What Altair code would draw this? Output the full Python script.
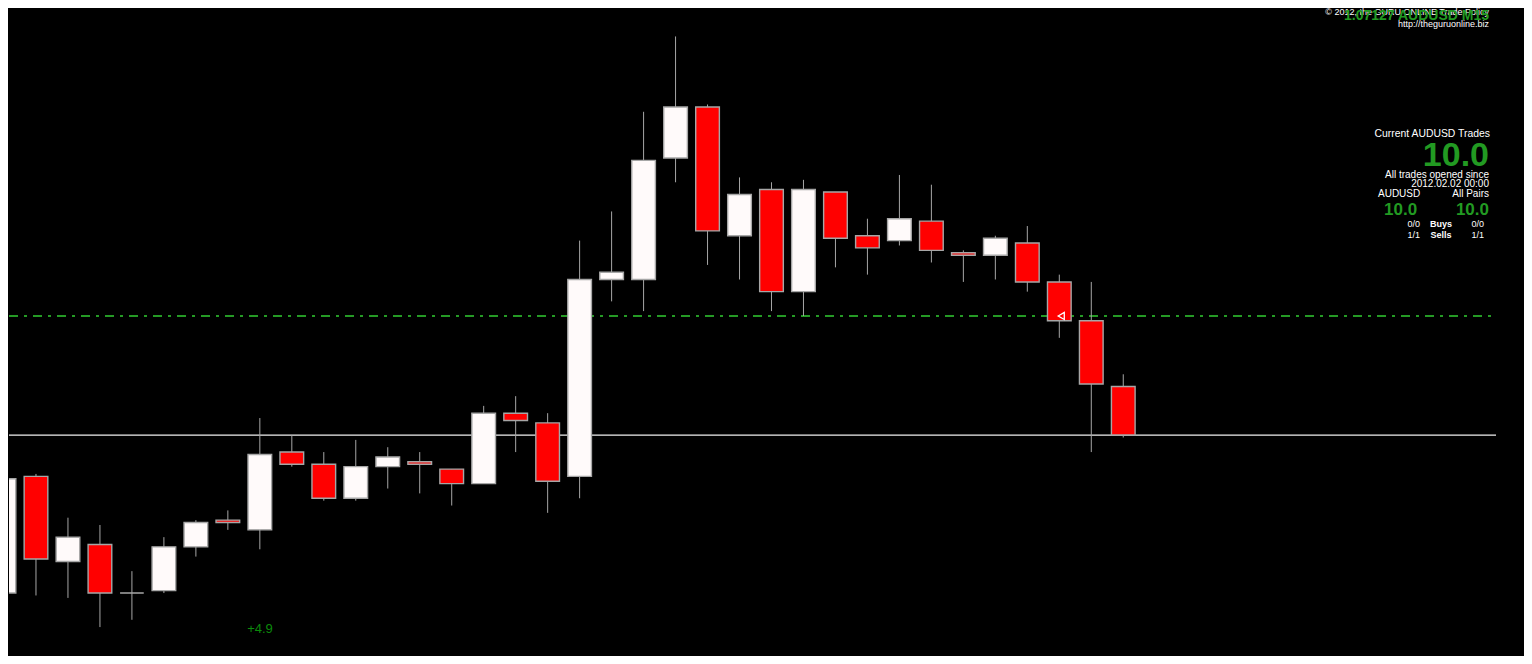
import altair as alt
import pandas as pd

# ---- AUDUSD M15 candles ----
opens  = [1.07062, 1.07110, 1.07075, 1.07082, 1.07062, 1.07063, 1.07081, 1.07092, 1.07088,
          1.07120, 1.07115, 1.07101, 1.07114, 1.07116, 1.07113, 1.07107, 1.07136, 1.07132,
          1.07110, 1.07191, 1.07191, 1.07241, 1.07262, 1.07209, 1.07228, 1.07186, 1.07227,
          1.07209, 1.07207, 1.07215, 1.07202, 1.07201, 1.07206, 1.07190, 1.07174, 1.07147]
highs  = [1.07128, 1.07111, 1.07093, 1.07090, 1.07071, 1.07085, 1.07092, 1.07096, 1.07134,
          1.07127, 1.07120, 1.07125, 1.07122, 1.07120, 1.07113, 1.07139, 1.07143, 1.07136,
          1.07207, 1.07219, 1.07260, 1.07291, 1.07263, 1.07233, 1.07231, 1.07232, 1.07227,
          1.07216, 1.07234, 1.07230, 1.07203, 1.07209, 1.07213, 1.07193, 1.07190, 1.07152]
lows   = [1.07061, 1.07061, 1.07060, 1.07048, 1.07051, 1.07062, 1.07077, 1.07088, 1.07080,
          1.07114, 1.07100, 1.07100, 1.07105, 1.07103, 1.07098, 1.07107, 1.07120, 1.07095,
          1.07101, 1.07182, 1.07178, 1.07231, 1.07197, 1.07191, 1.07178, 1.07176, 1.07196,
          1.07193, 1.07205, 1.07198, 1.07190, 1.07191, 1.07186, 1.07167, 1.07120, 1.07126]
closes = [1.07109, 1.07076, 1.07085, 1.07062, 1.07062, 1.07081, 1.07091, 1.07091, 1.07119,
          1.07115, 1.07101, 1.07114, 1.07118, 1.07115, 1.07107, 1.07136, 1.07133, 1.07108,
          1.07191, 1.07194, 1.07240, 1.07262, 1.07211, 1.07226, 1.07186, 1.07228, 1.07208,
          1.07204, 1.07216, 1.07203, 1.07201, 1.07208, 1.07190, 1.07174, 1.07148, 1.07127]

bid_price = 1.07127
trade_price = 1.07176
trade_bar = 33
profit_text = "+4.9"

header_title = "1.07127 AUDUSD M15"
copyright_text = "\u00a9 2012, the GURU ONLINE Trade Policy"
site_text = "http://theguruonline.biz"
panel_title = "Current AUDUSD Trades"
panel_total = "10.0"
since_label = "All trades opened since"
since_date = "2012.02.02 00:00"
pair_label = "AUDUSD"
all_label = "All Pairs"
pair_value = "10.0"
all_value = "10.0"
buys = ["0/0", "Buys", "0/0"]
sells = ["1/1", "Sells", "1/1"]

GREEN = "#229a22"
GRAY = "#a6a6a6"
FONT = "Liberation Sans"

df = pd.DataFrame({"i": list(range(len(opens))), "open": opens, "high": highs,
                   "low": lows, "close": closes})
df["dir"] = ["up" if c >= o else "down" for o, c in zip(opens, closes)]

xs = alt.Scale(domain=[0.15625, 47.53125], nice=False, zero=False)
ys = alt.Scale(domain=[1.070361, 1.073027], nice=False, zero=False)

base = alt.Chart(df)

wicks = base.mark_rule(color=GRAY, strokeWidth=1, clip=True).encode(
    x=alt.X("i:Q", scale=xs, axis=None),
    y=alt.Y("low:Q", scale=ys, axis=None),
    y2="high:Q",
)

bodies = base.transform_calculate(
    lo="datum.i - 0.37", hi="datum.i + 0.37"
).mark_rect(stroke=GRAY, strokeWidth=1.4, clip=True).encode(
    x=alt.X("lo:Q", scale=xs, axis=None),
    x2="hi:Q",
    y=alt.Y("open:Q", scale=ys, axis=None),
    y2="close:Q",
    fill=alt.Fill("dir:N", scale=alt.Scale(domain=["up", "down"], range=["#fffafa", "#ff0000"]),
                  legend=None),
)

bid_line = alt.Chart(pd.DataFrame({"p": [bid_price]})).mark_rule(
    color="#f0f0f0", strokeWidth=1.3
).encode(y=alt.Y("p:Q", scale=ys, axis=None), x=alt.value(0), x2=alt.value(1487))

trade_line = alt.Chart(pd.DataFrame({"p": [trade_price]})).mark_rule(
    color="#32cd32", strokeWidth=1.5, strokeDash=[9, 6, 3, 6]
).encode(y=alt.Y("p:Q", scale=ys, axis=None), x=alt.value(0), x2=alt.value(1487))

arrow = alt.Chart(pd.DataFrame({"i": [trade_bar + 0.06], "p": [trade_price]})).mark_point(
    shape="triangle-left", filled=False, stroke="white", strokeWidth=1.3, size=50, opacity=1
).encode(x=alt.X("i:Q", scale=xs, axis=None), y=alt.Y("p:Q", scale=ys, axis=None))


def label(text, x, y, size, color="white", align="right", weight="normal"):
    return alt.Chart(pd.DataFrame({"t": [text]})).mark_text(
        font=FONT, fontSize=size, color=color, align=align, baseline="middle",
        fontWeight=weight,
    ).encode(text="t:N", x=alt.value(x - 8), y=alt.value(y - 8))


labels = [
    label(profit_text, 259, 629, 13, color="#0b8a0b", align="center"),
    label(copyright_text, 1488, 12, 9),
    label(header_title, 1488, 16, 14, color=GREEN, weight="bold"),
    label(site_text, 1488, 24, 9),
    label(panel_title, 1489, 134, 10.4),
    label(panel_total, 1488, 156, 34, color=GREEN, weight="bold"),
    label(since_label, 1488, 175, 10),
    label(since_date, 1488, 184, 10),
    label(pair_label, 1377, 194, 10, align="left"),
    label(all_label, 1488, 194, 10),
    label(pair_value, 1383, 210, 17, color=GREEN, align="left", weight="bold"),
    label(all_value, 1488, 210, 17, color=GREEN, weight="bold"),
    label(buys[0], 1419, 224, 9),
    label(buys[1], 1440, 224, 9, align="center", weight="bold"),
    label(buys[2], 1483, 224, 9),
    label(sells[0], 1419, 235, 9),
    label(sells[1], 1440, 235, 9, align="center", weight="bold"),
    label(sells[2], 1483, 235, 9),
]

chart = alt.layer(bid_line, trade_line, wicks, bodies, arrow, *labels).properties(
    width=1516, height=648,
    autosize=alt.AutoSizeParams(type="fit", contains="padding"),
    padding=0,
).configure(background="black").configure_view(strokeWidth=0)

chart.save("out.html", embed_options={"renderer": "svg", "actions": False})
